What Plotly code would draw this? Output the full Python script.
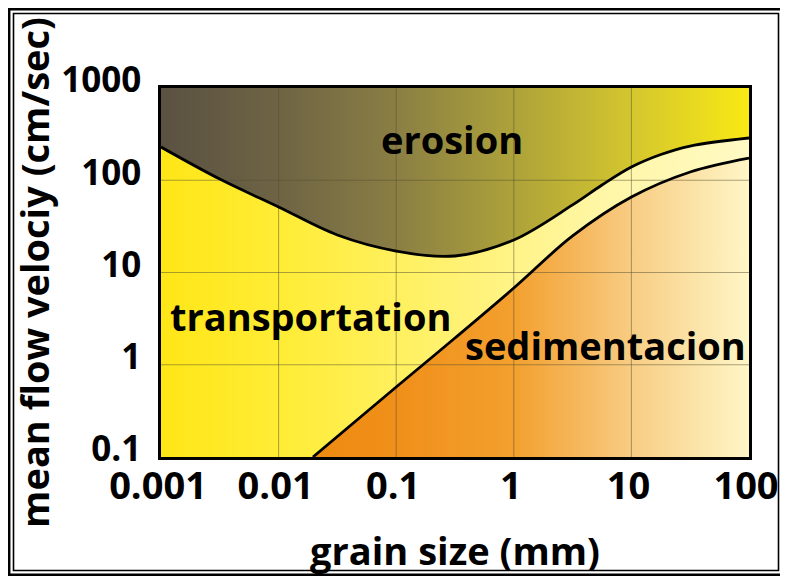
import numpy as np
import plotly.graph_objects as go

# ---- data (grain size in mm, velocity in cm/s) ----
erosion_x = [0.001, 0.00316, 0.01, 0.0316, 0.1, 0.316, 1, 3.16, 5.62, 10, 17.8, 31.6, 100]
erosion_y = [229, 103, 51.3, 25.5, 17.1, 15.1, 22.5, 54, 88.7, 139, 190, 235, 287]

sed_x = [0.0196, 0.1, 0.316, 1, 3.16, 10, 31.6, 100]
sed_y = [0.1, 0.574, 1.95, 6.79, 24.9, 65.8, 123, 174]

x_ticks = [0.001, 0.01, 0.1, 1, 10, 100]
x_labels = ["0.001", "0.01", "0.1", "1", "10", "100"]
y_ticks = [0.1, 1, 10, 100, 1000]
y_labels = ["0.1", "1", "10", "100", "1000"]

region_names = ["erosion", "transportation", "sedimentacion"]
region_x = [0.30, 0.0185, 5.97]
region_y = [280, 3.37, 1.64]

x_min, x_max = x_ticks[0], x_ticks[-1]
y_min, y_max = y_ticks[0], y_ticks[-1]

FONT = "Open Sans"

fig = go.Figure()

# transportation (background of the whole plot)
fig.add_trace(go.Scatter(
    x=[x_min, x_max, x_max, x_min], y=[y_min, y_min, y_max, y_max],
    mode="lines", line=dict(width=0, color="rgba(0,0,0,0)"),
    fill="toself",
    fillgradient=dict(type="horizontal", colorscale=[
        [0.0, "#ffe617"], [0.2, "#ffec35"], [0.45, "#fff168"],
        [0.75, "#fff6a6"], [1.0, "#fffac4"]]),
    hoverinfo="skip", showlegend=False))

# erosion: between the top of the plot and the erosion curve
fig.add_trace(go.Scatter(
    x=[x_min, x_max], y=[y_max, y_max], mode="lines",
    line=dict(width=0, color="rgba(0,0,0,0)"), hoverinfo="skip", showlegend=False))
fig.add_trace(go.Scatter(
    x=erosion_x, y=erosion_y, mode="lines",
    line=dict(width=0, color="rgba(0,0,0,0)", shape="spline", smoothing=1),
    fill="tonexty",
    fillgradient=dict(type="horizontal", colorscale=[
        [0.0, "#5a5142"], [0.2, "#6e6444"], [0.4, "#8a7e44"],
        [0.6, "#ada23a"], [0.8, "#d4c62e"], [1.0, "#f9e914"]]),
    hoverinfo="skip", showlegend=False))

# sedimentation: between the bottom of the plot and the sedimentation curve
fig.add_trace(go.Scatter(
    x=[sed_x[0], x_max], y=[y_min, y_min], mode="lines",
    line=dict(width=0, color="rgba(0,0,0,0)"), hoverinfo="skip", showlegend=False))
fig.add_trace(go.Scatter(
    x=sed_x, y=sed_y, mode="lines",
    line=dict(width=0, color="rgba(0,0,0,0)", shape="spline", smoothing=1),
    fill="tonexty",
    fillgradient=dict(type="horizontal", colorscale=[
        [0.0, "#ee8a10"], [0.2, "#f0901a"], [0.46, "#f3a02e"],
        [0.62, "#f6b960"], [0.75, "#f8d089"], [1.0, "#fff6c6"]]),
    hoverinfo="skip", showlegend=False))

# grid lines (drawn above the coloured regions)
gx, gy = [], []
for v in x_ticks[1:-1]:
    gx += [v, v, None]
    gy += [y_min, y_max, None]
for v in y_ticks[1:-1]:
    gx += [x_min, x_max, None]
    gy += [v, v, None]
fig.add_trace(go.Scatter(x=gx, y=gy, mode="lines",
                         line=dict(width=1, color="rgba(85,80,50,0.5)"),
                         hoverinfo="skip", showlegend=False))

# boundary curves
for cx, cy in [(erosion_x, erosion_y), (sed_x, sed_y)]:
    fig.add_trace(go.Scatter(x=cx, y=cy, mode="lines",
                             line=dict(width=2.8, color="black", shape="spline", smoothing=1),
                             hoverinfo="skip", showlegend=False))

# region labels
for name, rx, ry in zip(region_names, region_x, region_y):
    fig.add_annotation(x=np.log10(rx), y=np.log10(ry), xref="x", yref="y",
                       text=name, showarrow=False,
                       font=dict(family=FONT, size=38, color="black", weight="bold"))

# the html page has an 8px body margin: keep the figure inside the window
OFF = 8
W, H = 788 - 2 * OFF, 584 - 2 * OFF
L, R, T, B = 161 - OFF, 749 - OFF, 88 - OFF, 457 - OFF


def px(xp):
    return (xp - OFF - L) / (R - L)


def py(yp):
    return (B - (yp - OFF)) / (B - T)


# outer double frame (decoration)
fig.add_shape(type="rect", xref="paper", yref="paper",
              x0=px(9.2), x1=px(800), y0=py(9.2), y1=py(574.8),
              line=dict(color="black", width=2.5), layer="above")
fig.add_shape(type="rect", xref="paper", yref="paper",
              x0=px(13.5), x1=px(778.5), y0=py(13.5), y1=py(570.5),
              line=dict(color="black", width=1.6), layer="above")

fig.update_xaxes(type="log", range=[np.log10(x_min), np.log10(x_max)],
                 tickvals=x_ticks, ticktext=x_labels, ticks="",
                 automargin=False, ticklabeloverflow="allow",
                 ticklabelstandoff=-6, ticklabelshift=-3,
                 tickfont=dict(family=FONT, size=38, color="black", weight="bold"),
                 showgrid=False, zeroline=False,
                 showline=True, mirror=True, linecolor="black", linewidth=2.5,
                 title=dict(text="grain size (mm)", standoff=30,
                            font=dict(family=FONT, size=38, color="black", weight="bold")))
fig.update_yaxes(type="log", range=[np.log10(y_min), np.log10(y_max)],
                 tickvals=y_ticks, ticktext=y_labels, ticks="",
                 automargin=False,
                 ticklabelstandoff=10, ticklabelshift=-8,
                 tickfont=dict(family=FONT, size=35, color="black", weight="bold"),
                 showgrid=False, zeroline=False,
                 showline=True, mirror=True, linecolor="black", linewidth=2.5,
                 title=dict(text="mean flow velociy (cm/sec)", standoff=0,
                            font=dict(family=FONT, size=38, color="black", weight="bold")))

fig.update_layout(width=W, height=H, autosize=False,
                  margin=dict(l=L, r=W - R, t=T, b=H - B, autoexpand=False),
                  paper_bgcolor="white", plot_bgcolor="white",
                  hovermode=False, showlegend=False,
                  font=dict(family=FONT, color="black"))

fig.write_html("out.html")
